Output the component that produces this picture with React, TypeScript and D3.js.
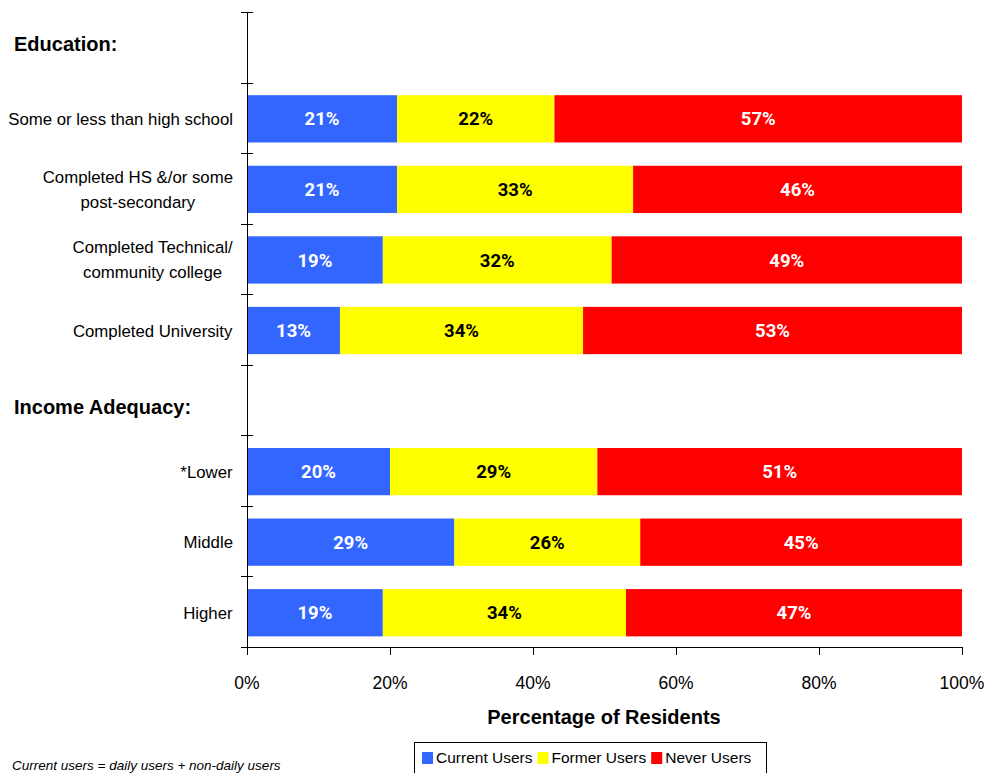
import React, { useEffect, useRef } from "react";
import * as d3 from "d3";

const rows = [
  "Education:",
  "Some or less than high school",
  "Completed HS &/or some\npost-secondary",
  "Completed Technical/\ncommunity college",
  "Completed University",
  "Income Adequacy:",
  "*Lower",
  "Middle",
  "Higher",
];
const headerRows = ["Education:", "Income Adequacy:"];
const seriesNames = ["Current Users", "Former Users", "Never Users"];
const currentUsers = [null, 21, 21, 19, 13, null, 20, 29, 19];
const formerUsers = [null, 22, 33, 32, 34, null, 29, 26, 34];
const neverUsers = [null, 57, 46, 49, 53, null, 51, 45, 47];
const xTicks = [0, 20, 40, 60, 80, 100];
const colors = ["#3366FF", "#FFFF00", "#FF0000"];
const labelColors = ["#FFFFFF", "#000000", "#FFFFFF"];

export default function App() {
  const ref = useRef<SVGSVGElement | null>(null);

  useEffect(() => {
    const svg = d3.select(ref.current);
    svg.selectAll("*").remove();
    const W = 988, H = 773;
    const left = 247, right = 962, top = 12, bottom = 647;
    const font = "Liberation Sans, Arial, sans-serif";

    const x = d3.scaleLinear().domain([0, 100]).range([left, right]);
    const y = d3.scaleBand().domain(rows).range([top, bottom]).paddingInner(0.33).paddingOuter(0.165);
    const step = y.step();

    svg.attr("width", W).attr("height", H);
    svg.append("rect").attr("width", W).attr("height", H).attr("fill", "#fff");

    const series = [currentUsers, formerUsers, neverUsers];
    const g = svg.append("g");
    rows.forEach((r, i) => {
      if (headerRows.includes(r)) return;
      let acc = 0;
      series.forEach((s, k) => {
        const v = s[i] as number;
        const x0 = x(acc), x1 = x(acc + v);
        g.append("rect")
          .attr("x", x0).attr("y", y(r)! + 1).attr("width", x1 - x0).attr("height", y.bandwidth())
          .attr("fill", colors[k]);
        g.append("text")
          .attr("x", (x0 + x1) / 2).attr("y", y(r)! + 1 + y.bandwidth() / 2)
          .attr("dy", "0.36em").attr("text-anchor", "middle")
          .attr("font-family", "Roboto, sans-serif").attr("font-weight", "bold").attr("font-size", 18.5)
          .attr("fill", labelColors[k]).text(v + "%");
        acc += v;
      });
    });

    // y axis line and cross ticks
    const ax = svg.append("g").attr("stroke", "#000").attr("stroke-width", 1);
    ax.append("line").attr("x1", left + 0.5).attr("x2", left + 0.5).attr("y1", top).attr("y2", bottom + 8);
    for (let i = 0; i <= rows.length; i++) {
      const yy = Math.round(top + i * step) + 0.5;
      ax.append("line").attr("x1", left - 6).attr("x2", left + 6).attr("y1", yy).attr("y2", yy);
    }
    // x axis
    ax.append("line").attr("x1", left - 6).attr("x2", right).attr("y1", bottom + 0.5).attr("y2", bottom + 0.5);
    xTicks.forEach((t) => {
      const xx = Math.round(x(t)) + 0.5;
      ax.append("line").attr("x1", xx).attr("x2", xx).attr("y1", bottom).attr("y2", bottom + 8);
      svg.append("text").attr("x", x(t)).attr("y", 689).attr("text-anchor", "middle")
        .attr("font-family", font).attr("font-size", 17.5).attr("fill", "#000").text(t + "%");
    });

    svg.append("text").attr("x", 604).attr("y", 724).attr("text-anchor", "middle")
      .attr("font-family", font).attr("font-weight", "bold").attr("font-size", 20).text("Percentage of Residents");

    // category labels
    rows.forEach((r, i) => {
      const cy = y(r)! + 1 + y.bandwidth() / 2;
      if (headerRows.includes(r)) {
        svg.append("text").attr("x", 14).attr("y", cy + (i === 0 ? -4 : 6)).attr("dy", "0.36em")
          .attr("font-family", font).attr("font-weight", "bold").attr("font-size", 20).text(r);
        return;
      }
      const lines = r.split("\n");
      const t = svg.append("text").attr("font-family", font).attr("font-size", 16.8).attr("text-anchor", "middle").attr("fill", "#000");
      const lh = 25;
      lines.forEach((ln, j) => {
        t.append("tspan").attr("x", 0).attr("y", cy + (j - (lines.length - 1) / 2) * lh).attr("dy", "0.36em").text(ln);
      });
      const bb = (t.node() as SVGTextElement).getBBox();
      t.attr("transform", `translate(${233 - (bb.x + bb.width)},0)`);
    });

    // legend
    const lg = svg.append("g");
    lg.append("rect").attr("x", 414.5).attr("y", 742.5).attr("width", 352).attr("height", 40)
      .attr("fill", "#fff").attr("stroke", "#000");
    let lx = 422;
    seriesNames.forEach((n, k) => {
      lg.append("rect").attr("x", lx).attr("y", 752).attr("width", 11).attr("height", 12).attr("fill", colors[k]);
      const tt = lg.append("text").attr("x", lx + 14).attr("y", 763).attr("font-family", font).attr("font-size", 15.5).text(n);
      lx += 14 + (tt.node() as SVGTextElement).getComputedTextLength() + 5;
    });

    svg.append("text").attr("x", 12).attr("y", 770).attr("font-family", font).attr("font-style", "italic")
      .attr("font-size", 13.5).text("Current users = daily users + non-daily users");
  }, []);

  return <svg ref={ref} style={{ position: "absolute", left: 0, top: 0, display: "block" }} />;
}
